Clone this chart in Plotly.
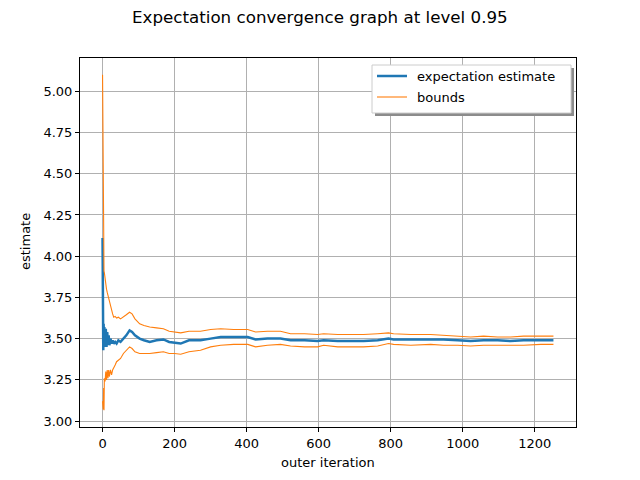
import plotly.graph_objects as go

# Data
iterations = [0, 1, 2, 3, 4, 5, 7, 9, 11, 13, 15, 17, 19, 22, 25, 28, 31, 35, 39, 44, 50, 58,
              66, 75, 82, 90, 103, 115, 131, 150, 169, 185, 200, 217, 240,
              272, 300, 328, 364, 403, 425, 458, 494, 522, 561, 597, 614, 653, 689, 725, 764,
              794, 808, 856, 911, 947, 986, 1022, 1058, 1097, 1133, 1169, 1217, 1252]
estimate = [4.11, 3.80, 3.43, 3.59, 3.46, 3.57, 3.45, 3.56, 3.45, 3.54, 3.46, 3.52, 3.46, 3.50,
            3.47, 3.49, 3.47, 3.48, 3.47, 3.49, 3.48, 3.50, 3.52, 3.55, 3.54, 3.52, 3.50, 3.49,
            3.48, 3.49, 3.495, 3.48, 3.475, 3.47, 3.49,
            3.49, 3.50, 3.51, 3.51, 3.51, 3.495, 3.50, 3.50, 3.49, 3.49, 3.485, 3.49, 3.485,
            3.485, 3.485, 3.49, 3.50, 3.495, 3.495, 3.495, 3.495, 3.49, 3.485, 3.49, 3.49,
            3.485, 3.49, 3.49, 3.49]
upper = [5.10, 4.50, 4.00, 3.92, 3.91, 3.90, 3.85, 3.82, 3.80, 3.78, 3.76, 3.75, 3.73, 3.70,
         3.68, 3.65, 3.63, 3.635, 3.625, 3.63, 3.62, 3.635, 3.645, 3.66, 3.65, 3.62, 3.59, 3.58,
         3.57, 3.565, 3.56, 3.545, 3.54, 3.535, 3.545,
         3.545, 3.555, 3.56, 3.555, 3.555, 3.54, 3.545, 3.545, 3.53, 3.53, 3.525, 3.53, 3.525,
         3.525, 3.525, 3.53, 3.535, 3.53, 3.525, 3.525, 3.52, 3.515, 3.51, 3.515, 3.51, 3.51,
         3.515, 3.515, 3.515]
lower = [3.12, 3.10, 3.07, 3.20, 3.066, 3.26, 3.24, 3.30, 3.25, 3.31, 3.26, 3.31, 3.27, 3.31,
         3.28, 3.31, 3.32, 3.34, 3.36, 3.37, 3.38, 3.41, 3.43, 3.45, 3.44, 3.42, 3.41, 3.41,
         3.41, 3.415, 3.42, 3.41, 3.41, 3.405, 3.42,
         3.43, 3.45, 3.46, 3.465, 3.465, 3.45, 3.46, 3.465, 3.455, 3.45, 3.45, 3.46, 3.45,
         3.45, 3.45, 3.455, 3.47, 3.465, 3.46, 3.465, 3.46, 3.46, 3.455, 3.46, 3.46, 3.46,
         3.46, 3.465, 3.465]

x_ticks = [0, 200, 400, 600, 800, 1000, 1200]
y_ticks = [3.00, 3.25, 3.50, 3.75, 4.00, 4.25, 4.50, 4.75, 5.00]
legend_labels = ["expectation estimate", "bounds"]

blue = "#1f77b4"
orange = "#ff7f0e"
font = "DejaVu Sans"

OFF = 8  # default page body margin
W, H = 632, 472
L, R, T, B = 72, 64, 50, 53
PW, PH = W - L - R, H - T - B


def px(x):
    return (x - OFF - L) / PW


def py(y):
    return (OFF + H - B - y) / PH


fig = go.Figure()
fig.add_trace(go.Scatter(x=iterations, y=estimate, mode="lines", name=legend_labels[0],
                         line=dict(color=blue, width=2.5)))
fig.add_trace(go.Scatter(x=iterations, y=upper, mode="lines", name=legend_labels[1],
                         line=dict(color=orange, width=1.1)))
fig.add_trace(go.Scatter(x=iterations, y=lower, mode="lines", name=legend_labels[1],
                         line=dict(color=orange, width=1.1)))

axis_common = dict(showline=True, linecolor="black", linewidth=1, mirror=True,
                   ticks="outside", ticklen=4, tickwidth=1, tickcolor="black",
                   showgrid=True, gridcolor="#b0b0b0", gridwidth=0.8, zeroline=False,
                   automargin=False,
                   tickfont=dict(family=font, size=13, color="black"))

fig.update_xaxes(range=[-62.6, 1314.6], tickvals=x_ticks,
                 ticktext=[str(v) for v in x_ticks], **axis_common)
fig.update_yaxes(range=[2.964, 5.202], tickvals=y_ticks,
                 ticktext=[f"{v:.2f}" for v in y_ticks], **axis_common)

# manual legend with shadow (matplotlib style)
box = (372, 65, 571, 113)
shapes = [
    dict(type="rect", xref="paper", yref="paper",
         x0=px(box[0] + 3), x1=px(box[2] + 3), y0=py(box[3] + 3), y1=py(box[1] + 3),
         fillcolor="#8c8c8c", line=dict(width=0), layer="above"),
    dict(type="rect", xref="paper", yref="paper",
         x0=px(box[0]), x1=px(box[2]), y0=py(box[3]), y1=py(box[1]),
         fillcolor="white", line=dict(color="#cccccc", width=1), layer="above"),
    dict(type="line", xref="paper", yref="paper",
         x0=px(377), x1=px(407), y0=py(76), y1=py(76),
         line=dict(color=blue, width=2.5), layer="above"),
    dict(type="line", xref="paper", yref="paper",
         x0=px(377), x1=px(407), y0=py(97), y1=py(97),
         line=dict(color=orange, width=1.1), layer="above"),
]
annotations = [
    dict(text=legend_labels[0], xref="paper", yref="paper", x=px(415), y=py(76),
         xanchor="left", yanchor="middle", showarrow=False,
         font=dict(family=font, size=13, color="black")),
    dict(text=legend_labels[1], xref="paper", yref="paper", x=px(415), y=py(97),
         xanchor="left", yanchor="middle", showarrow=False,
         font=dict(family=font, size=13, color="black")),
    dict(text="outer iteration", xref="paper", yref="paper", x=px(328), y=py(462),
         xanchor="center", yanchor="middle", showarrow=False,
         font=dict(family=font, size=13, color="black")),
    dict(text="estimate", xref="paper", yref="paper", x=px(25), y=py(242),
         xanchor="center", yanchor="middle", showarrow=False, textangle=-90,
         font=dict(family=font, size=13, color="black")),
    dict(text="Expectation convergence graph at level 0.95", xref="paper", yref="paper",
         x=px(320), y=py(17), xanchor="center", yanchor="middle", showarrow=False,
         font=dict(family=font, size=16.7, color="black")),
]

fig.update_layout(
    width=W, height=H,
    margin=dict(l=L, r=R, t=T, b=B),
    paper_bgcolor="white", plot_bgcolor="white",
    showlegend=False,
    shapes=shapes,
    annotations=annotations,
)

fig.write_html("out.html")
